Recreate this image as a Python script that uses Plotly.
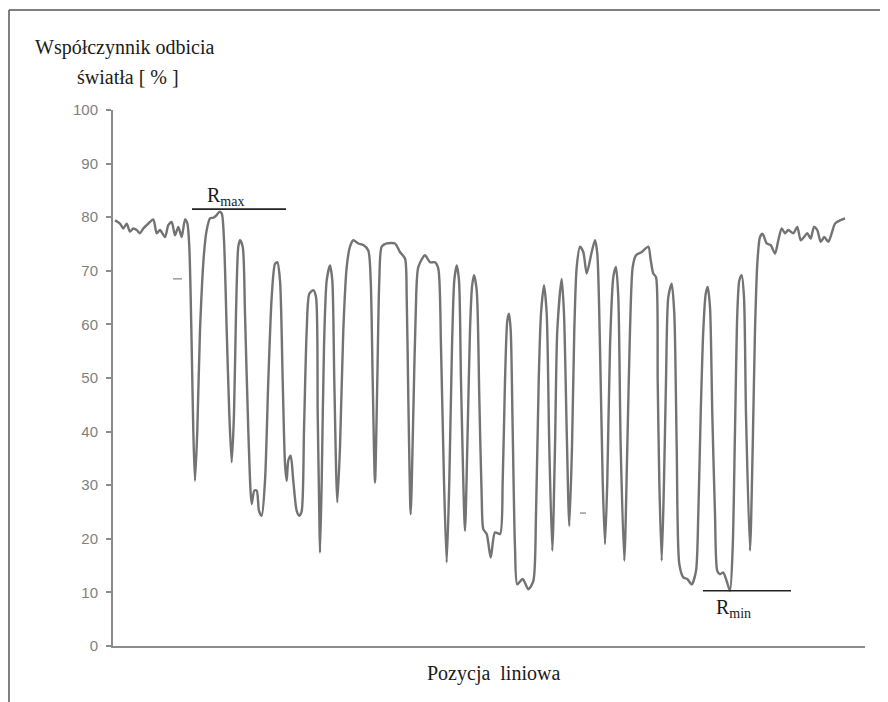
import plotly.graph_objects as go

# Linear position (arbitrary units) and light reflectance [%]
position = [
    2, 7, 10.3, 13.7, 17, 20.3, 23.7, 27, 30.3, 35.3, 40.3, 43.7, 47, 52, 55.3, 58.7, 62, 65.3, 68.7, 72, 74.3,
    76.3, 78.7, 80.3, 82, 84.3, 87, 91, 93.7, 97, 100.3,
    103.7, 106.3, 108.7, 111, 113.7, 116.3, 118.7, 121, 123, 125.3,
    127, 129.7, 132, 135.3, 138.7, 141.3, 143.7, 146, 148.7, 152,
    155.3, 158.7, 162, 164.3, 167, 169.7, 172, 173.7, 175.3, 177.7,
    180.3, 183.7, 186.3, 188.7, 191, 193.7, 196.3, 200.3, 203, 204.7,
    206.3, 207, 208.7, 211, 213.7, 217, 219.3, 221.3, 224.3, 227,
    230.3, 233.7,
    237, 240.3, 245.3, 250.3, 255.3, 257.7, 259.7, 262, 264.3, 266.3,
    268.7, 273.7, 282, 287, 292, 293.7, 295.3, 297.7, 300.3, 302.7,
    305.3, 312, 317, 322, 325.3, 328, 331, 333.7, 336.3, 339,
    341.3, 343.7, 346, 348, 352, 354.3, 357, 359, 361, 363.7,
    366.3, 368.7, 370.3, 373.7, 377.7, 382, 387, 389.7, 392, 394.3,
    396, 397.7, 399.7, 402, 404.3, 409.7, 415.3, 420.3, 423, 425.7,
    428, 431, 433.7, 436.3, 439.3, 442, 444.3, 448.7, 451, 453.7,
    456.3, 459, 461.3, 463.7,
    467, 470.3, 473.7, 478.7, 482, 484.3,
    487, 489.7, 492, 494.3, 497, 500.3, 503, 505.3, 507.7, 511.3,
    514.3, 517, 519.7, 523, 528.7, 535.3, 537.7, 540.3, 543, 544.7,
    546.3, 548.7, 551, 553, 555.3, 558.7, 561.3, 563.7, 566.3, 570.3,
    574.3, 578.7, 583, 585.3, 587.7, 590.3, 592.7, 594.7, 597, 599.3,
    602, 604.3, 607, 610.3, 613.7, 617, 619.7, 622, 624.3, 626.3,
    628.7, 631, 633, 637, 639.7, 642, 644.3, 647, 649.7, 653.7,
    657.7, 662, 665.3, 668.7, 672, 675.3, 680.3, 684.3, 687.7, 691,
    694.3, 697.7, 701, 704.3, 707.7, 711.3, 715.3, 718.7, 722, 727,
    732,
]

reflectance = [
    79.4, 78.8, 77.9, 78.8, 77.3, 77.9, 77.6, 77.0, 77.9, 78.8, 79.6, 77.0, 77.6, 76.3, 78.5, 79.1, 76.6, 78.2, 76.3, 79.6, 78.9,
    74.5, 55.8, 40.2, 30.8, 40.2, 58.9, 73.2, 77.6, 79.8, 79.9,
    80.4, 81.0, 80.7, 75.7, 58.9, 43.3, 34.3, 43.3, 62.0, 74.5,
    75.7, 74.5, 62.0, 40.2, 26.5, 29.0, 29.0, 25.2, 24.3, 30.8,
    49.5, 65.1, 71.3, 71.6, 68.2, 49.5, 34.0, 30.8, 34.6, 35.5,
    30.8, 25.2, 24.3, 25.2, 40.2, 58.9, 65.7, 66.4, 65.1, 43.3,
    24.6, 17.4, 30.8, 55.8, 68.2, 71.0, 68.2, 49.5, 26.8, 37.1,
    58.9, 70.7,
    74.5, 75.7, 75.1, 74.8, 73.8, 68.2, 49.5, 30.5, 49.5, 68.2,
    74.5, 75.1, 75.1, 73.5, 72.3, 65.1, 46.4, 24.6, 43.3, 62.0,
    70.7, 72.9, 71.6, 71.6, 70.4, 55.8, 30.8, 15.6, 30.8, 55.8,
    68.2, 71.0, 68.2, 49.5, 21.5, 37.1, 58.9, 67.0, 69.2, 66.4,
    46.4, 27.7, 21.8, 20.9, 16.5, 21.2, 20.9, 30.8, 49.5, 60.7,
    62.0, 58.9, 40.2, 18.4, 11.5, 12.5, 10.6, 12.1, 24.6, 49.5,
    62.0, 67.3, 62.0, 37.1, 17.8, 37.1, 58.9, 68.5, 62.0, 40.2,
    22.4, 37.1, 58.9, 70.7,
    74.5, 73.5, 69.5, 73.5, 75.7, 73.2,
    55.8, 30.8, 19.0, 30.8, 55.8, 68.8, 70.7, 65.1, 37.1, 15.9,
    37.1, 58.9, 70.7, 72.9, 73.5, 74.5, 72.0, 69.5, 68.8, 49.5,
    30.8, 15.9, 30.8, 49.5, 65.1, 67.6, 62.0, 37.1, 15.3, 12.8,
    12.5, 11.5, 14.0, 24.6, 43.3, 58.9, 65.7, 67.0, 63.2, 43.3,
    24.6, 14.0, 13.4, 13.7, 12.1, 10.3, 18.4, 40.2, 62.0, 68.2,
    69.2, 65.1, 43.3, 17.8, 37.1, 58.9, 71.3, 76.3, 76.9, 75.1,
    74.8, 73.2, 75.7, 77.9, 77.0, 77.6, 77.0, 78.2, 75.7, 76.3,
    77.0, 76.0, 78.2, 77.6, 75.4, 76.3, 75.4, 77.0, 78.8, 79.4,
    79.8,
]

y_ticks = [0, 10, 20, 30, 40, 50, 60, 70, 80, 90, 100]

r_max = 81.5
r_max_span = [79, 173]
r_min = 10.3
r_min_span = [590, 678]

# small scan specks visible in the original
speck_x = [60, 69, None, 467, 473]
speck_y = [68.5, 68.5, None, 24.8, 24.8]

assert len(position) == len(reflectance)

serif = "Liberation Serif, Times New Roman, serif"

fig = go.Figure()
fig.add_trace(go.Scatter(
    x=position, y=reflectance, mode="lines",
    line=dict(color="#737373", width=2.4, shape="spline", smoothing=0.7),
    hoverinfo="skip",
))
fig.add_trace(go.Scatter(
    x=speck_x, y=speck_y, mode="lines",
    line=dict(color="#9a9a9a", width=1.5), hoverinfo="skip",
))
fig.add_trace(go.Scatter(
    x=r_max_span, y=[r_max, r_max], mode="lines",
    line=dict(color="#222222", width=1.6), hoverinfo="skip",
))
fig.add_trace(go.Scatter(
    x=r_min_span, y=[r_min, r_min], mode="lines",
    line=dict(color="#222222", width=1.6), hoverinfo="skip",
))

annotations = [
    dict(text="Współczynnik odbicia", xref="paper", yref="paper", x=-0.1064, y=1.1175,
         xanchor="left", yanchor="middle", showarrow=False,
         font=dict(family=serif, size=20, color="#1a1a1a")),
    dict(text="światła [ % ]", xref="paper", yref="paper", x=-0.0505, y=1.0616,
         xanchor="left", yanchor="middle", showarrow=False,
         font=dict(family=serif, size=20, color="#1a1a1a")),
    dict(text="Pozycja\u00a0 liniowa", xref="paper", yref="paper", x=0.4149, y=-0.0522,
         xanchor="left", yanchor="middle", showarrow=False,
         font=dict(family=serif, size=20, color="#1a1a1a")),
    dict(text="R<sub>max</sub>", xref="x", yref="y", x=92, y=r_max,
         xanchor="left", yanchor="bottom", showarrow=False, yshift=-2,
         font=dict(family=serif, size=20, color="#1a1a1a")),
    dict(text="R<sub>min</sub>", xref="x", yref="y", x=601, y=r_min,
         xanchor="left", yanchor="top", showarrow=False, yshift=-3,
         font=dict(family=serif, size=20, color="#1a1a1a")),
]

shapes = [
    dict(type="line", xref="paper", yref="paper", x0=-0.1383, x1=-0.1383, y0=1.1866, y1=-0.12,
         line=dict(color="#555555", width=1.5)),
    dict(type="line", xref="paper", yref="paper", x0=-0.1383, x1=1.05, y0=1.1866, y1=1.1866,
         line=dict(color="#555555", width=1.5)),
]

# The page body adds an 8 px offset, so the figure is 8 px smaller on each axis
fig.update_layout(
    width=880, height=694,
    margin=dict(l=105, r=23, t=102, b=56),
    paper_bgcolor="white", plot_bgcolor="white",
    showlegend=False,
    annotations=annotations,
    shapes=shapes,
    xaxis=dict(range=[0, 752], showline=True, linecolor="#8c8c8c", linewidth=2,
               showticklabels=False, ticks="", showgrid=False, zeroline=False),
    yaxis=dict(range=[0, 100], tickvals=y_ticks, ticks="outside", ticklen=5, tickwidth=2,
               tickcolor="#8c8c8c", showline=True, linecolor="#8c8c8c", linewidth=2,
               showgrid=False, zeroline=False, ticklabelstandoff=5,
               tickfont=dict(family="Liberation Sans, Arial, sans-serif", size=15, color="#7f7f7f")),
)

fig.write_html("out.html")
